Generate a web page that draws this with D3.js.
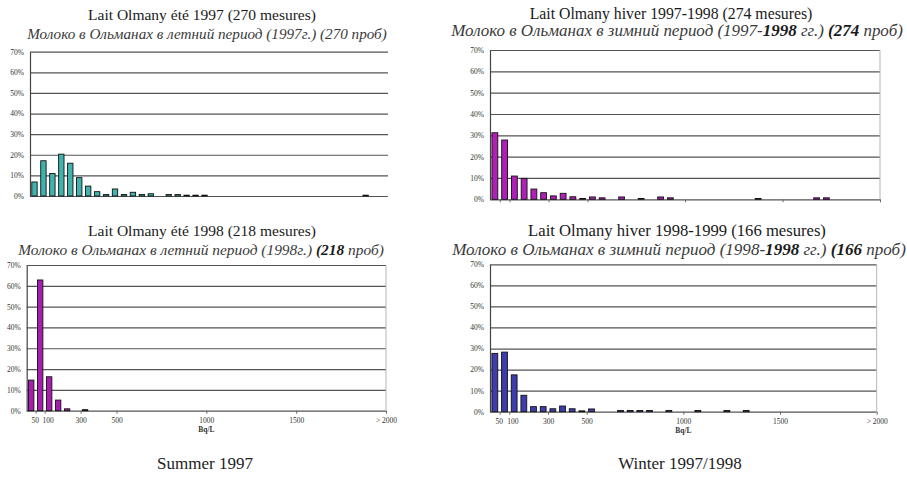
<!DOCTYPE html>
<html>
<head>
<meta charset="utf-8">
<script src="https://cdn.jsdelivr.net/npm/d3@7"></script>
<style>
  body { margin: 0; background: #fff; }
  svg { display: block; }
</style>
</head>
<body>
<script>
// Tick values shared by the four histograms
const yTicks = [0, 10, 20, 30, 40, 50, 60, 70];
const xTickValues = [50, 100, 300, 500, 1000, 1500, 2000];
const xTickLabels = ["50", "100", "300", "500", "1000", "1500", "> 2000"];

// Bins are 50 Bq/L wide, value = lower bound of the bin; pct = share of samples (%)
const summer97Bins = [0, 50, 100, 150, 200, 250, 300, 350, 400, 450, 500, 550, 600, 650, 750, 800, 850, 900, 950, 1850];
const summer97Pct  = [6.8, 17.1, 10.9, 20.3, 15.9, 8.9, 4.8, 2.1, 0.7, 3.4, 0.7, 1.8, 0.7, 1.1, 0.7, 0.7, 0.4, 0.4, 0.4, 0.4];

const winter9798Bins = [0, 50, 100, 150, 200, 250, 300, 350, 400, 450, 500, 550, 650, 750, 850, 900, 1350, 1650, 1700];
const winter9798Pct  = [31.2, 27.8, 10.9, 9.8, 4.8, 3.1, 1.6, 2.8, 1.2, 0.4, 1.1, 0.7, 1.1, 0.4, 1.1, 0.7, 0.4, 0.7, 0.7];

const summer98Bins = [0, 50, 100, 150, 200, 300];
const summer98Pct  = [14.7, 62.8, 16.3, 5.1, 0.9, 0.5];

const winter9899Bins = [0, 50, 100, 150, 200, 250, 300, 350, 400, 450, 500, 650, 700, 750, 800, 900, 1050, 1200, 1300];
const winter9899Pct  = [27.7, 28.3, 17.5, 7.8, 2.4, 2.4, 1.4, 2.7, 1.4, 0.4, 1.3, 0.6, 0.6, 0.6, 0.6, 0.6, 0.6, 0.6, 0.6];

// Titles (French) and subtitles (Russian, some parts in bold)
const titles = [
  "Lait Olmany été 1997 (270 mesures)",
  "Lait Olmany hiver 1997-1998 (274 mesures)",
  "Lait Olmany été 1998 (218 mesures)",
  "Lait Olmany hiver 1998-1999 (166 mesures)"
];
const subtitles = [
  [["Молоко в Ольманах в летний период (1997г.) (270 проб)", false]],
  [["Молоко в Ольманах в зимний период (1997-", false], ["1998", true], [" гг.) ", false], ["(274", true], [" проб)", false]],
  [["Молоко в Ольманах в летний период (1998г.) ", false], ["(218", true], [" проб)", false]],
  [["Молоко в Ольманах в зимний период (1998-", false], ["1998", true], [" гг.) ", false], ["(166", true], [" проб)", false]]
];
const captions = ["Summer 1997", "Winter 1997/1998"];

var svg = d3.select("body").append("svg")
    .attr("width", 907)
    .attr("height", 480);

const serif = "'Liberation Serif', 'Times New Roman', serif";

// scale a text so it spans the given width
function fitText(t, w) {
  var len = t.node().getComputedTextLength();
  var fs = parseFloat(t.attr("font-size"));
  t.attr("font-size", fs * w / len);
}

var panels = [
  { bins: summer97Bins, pct: summer97Pct, color: "#3fb3ae",
    x0: 30, x1: 388, yTop: 51.7, yBot: 196,
    tx: 202, ty: 20, tw: 228, sx: 207, sy: 39, sw: 360, ticks: false, labels: false },
  { bins: winter9798Bins, pct: winter9798Pct, color: "#b01fb8",
    x0: 490, x1: 880, yTop: 50, yBot: 199.3,
    tx: 671, ty: 19, tw: 283, sx: 677, sy: 36, sw: 452, ticks: true, labels: false },
  { bins: summer98Bins, pct: summer98Pct, color: "#a81daf",
    x0: 26.7, x1: 386, yTop: 265, yBot: 410.7,
    tx: 202, ty: 236, tw: 228, sx: 201, sy: 255, sw: 366, ticks: true, labels: true },
  { bins: winter9899Bins, pct: winter9899Pct, color: "#3d3db0",
    x0: 490, x1: 876.7, yTop: 264.3, yBot: 411.7,
    tx: 677, ty: 236, tw: 298, sx: 679, sy: 255, sw: 454, ticks: true, labels: true }
];

panels.forEach(function (p, i) {
  var x = d3.scaleLinear().domain([0, 2000]).range([p.x0, p.x1]);
  var y = d3.scaleLinear().domain([0, 70]).range([p.yBot, p.yTop]);
  var g = svg.append("g");

  // title + subtitle
  var t = g.append("text")
      .attr("x", p.tx).attr("y", p.ty)
      .attr("text-anchor", "middle")
      .attr("font-family", serif).attr("font-size", 15)
      .attr("fill", "#1a1a1a")
      .text(titles[i]);
  fitText(t, p.tw);

  var s = g.append("text")
      .attr("x", p.sx).attr("y", p.sy)
      .attr("text-anchor", "middle")
      .attr("font-family", serif).attr("font-size", 15)
      .attr("font-style", "italic")
      .attr("fill", "#3a3a3a");
  subtitles[i].forEach(function (part) {
    s.append("tspan")
      .attr("font-weight", part[1] ? "bold" : "normal")
      .attr("fill", part[1] ? "#1a1a1a" : "#3a3a3a")
      .text(part[0]);
  });
  fitText(s, p.sw);

  // horizontal grid lines
  g.append("g")
      .attr("class", "grid")
      .attr("transform", "translate(" + p.x0 + ",0)")
      .call(d3.axisLeft(y).tickValues(yTicks).tickSize(-(p.x1 - p.x0)).tickFormat(""))
      .call(a => a.select(".domain").remove())
      .selectAll("line")
      .attr("stroke", "#555")
      .attr("stroke-width", 1.2);

  // right border
  if (i > 0) {
    g.append("line")
      .attr("x1", p.x1).attr("x2", p.x1)
      .attr("y1", p.yTop).attr("y2", p.yBot)
      .attr("stroke", "#b5b5b5");
  }

  // y axis with percent labels
  var ya = g.append("g")
      .attr("transform", "translate(" + p.x0 + ",0)")
      .call(d3.axisLeft(y).tickValues(yTicks).tickSize(0).tickPadding(6).tickFormat(d => d + "%"));
  ya.select(".domain").attr("stroke", "#444").attr("stroke-width", 1.2);
  ya.selectAll("text").attr("font-family", serif).attr("font-size", 7.5).attr("fill", "#333");

  // x axis
  if (p.ticks) {
    var xa = g.append("g")
        .attr("transform", "translate(0," + p.yBot + ")")
        .call(d3.axisBottom(x).tickValues(xTickValues).tickSize(3).tickPadding(4)
          .tickFormat((d, k) => p.labels ? xTickLabels[k] : ""));
    xa.select(".domain").remove();
    xa.selectAll("line").attr("stroke", "#666");
    xa.selectAll("text")
        .attr("font-family", serif).attr("font-size", 7.5).attr("fill", "#333")
        .attr("dx", (d, k) => k === 0 ? -1 : (k === 1 ? 3 : 0));
    if (p.labels) {
      g.append("text")
        .attr("x", (p.x0 + p.x1) / 2).attr("y", p.yBot + 21)
        .attr("text-anchor", "middle")
        .attr("font-family", serif).attr("font-size", 7.5)
        .attr("font-weight", "bold").attr("fill", "#333")
        .text("Bq/L");
    }
  }

  // bars
  var bw = (x(50) - x(0)) * 0.6;
  g.selectAll(".bar")
    .data(p.bins.map((b, k) => ({ b: b, v: p.pct[k] })))
    .enter()
    .append("rect")
    .attr("class", "bar")
    .attr("x", d => x(d.b + 25) - bw / 2)
    .attr("width", bw)
    .attr("y", d => y(d.v))
    .attr("height", d => y(0) - y(d.v))
    .attr("fill", p.color)
    .attr("stroke", "#111")
    .attr("stroke-width", 0.9);
});

// captions under the two columns, same size for both
[205, 680].forEach(function (cx, i) {
  svg.append("text")
      .attr("x", cx).attr("y", 469)
      .attr("text-anchor", "middle")
      .attr("font-family", serif).attr("font-size", 17)
      .attr("fill", "#222")
      .text(captions[i]);
});
</script>
</body>
</html>
